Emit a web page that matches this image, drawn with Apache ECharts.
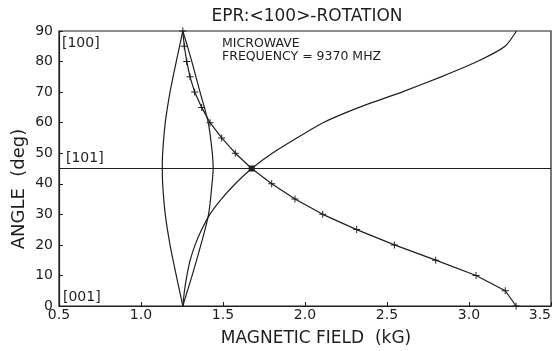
<!DOCTYPE html>
<html>
<head>
<meta charset="utf-8">
<script src="https://cdn.jsdelivr.net/npm/echarts@6/dist/echarts.min.js"></script>
<style>
html,body{margin:0;padding:0;background:#fff;}
#chart{width:555px;height:351px;}
</style>
</head>
<body>
<div id="chart"></div>
<script>
// Marked curve (with + symbols): angle (deg) vs magnetic field (kG)
const markedAngles = [90, 85, 80, 75, 70, 65, 60, 55, 50, 45, 40, 35, 30, 25, 20, 15, 10, 5, 0];
const markedField  = [1.255, 1.264, 1.279, 1.299, 1.327, 1.370, 1.421, 1.492, 1.575, 1.675, 1.797, 1.939, 2.108, 2.315, 2.545, 2.797, 3.043, 3.221, 3.287];

// Rising curve (no symbols)
const risingAngles = [0, 5, 10, 15, 20, 25, 30, 35, 40, 45, 50, 55, 60, 65, 70, 75, 80, 85, 90];
const risingField  = [1.255, 1.265, 1.280, 1.300, 1.330, 1.370, 1.420, 1.490, 1.575, 1.675, 1.800, 1.950, 2.110, 2.330, 2.590, 2.830, 3.050, 3.220, 3.290];

// Lens-shaped pair of curves
const lensAngles = [90, 85, 80, 70, 60, 50, 45, 40, 30, 20, 10, 5, 0];
const lensLeft   = [1.255, 1.235, 1.215, 1.177, 1.148, 1.132, 1.130, 1.132, 1.148, 1.177, 1.215, 1.235, 1.255];
const lensRight  = [1.255, 1.283, 1.310, 1.360, 1.410, 1.435, 1.440, 1.433, 1.412, 1.365, 1.312, 1.283, 1.255];

// Axis ticks / reference line
const xTicks = [0.5, 1.0, 1.5, 2.0, 2.5, 3.0, 3.5];
const yTicks = [0, 10, 20, 30, 40, 50, 60, 70, 80, 90];
const refAngle = 45;

const INK = '#1e1e1e';
const FONT = 'DejaVu Sans';
const plus = 'path://M-0.14,-1H0.14V-0.14H1V0.14H0.14V1H-0.14V0.14H-1V-0.14H-0.14Z';

function pairs(fields, angles) { return fields.map((f, i) => [f, angles[i]]); }

const markedData = markedField.map((f, i) => {
  const item = { value: [f, markedAngles[i]] };
  if (markedAngles[i] === refAngle) { item.symbol = 'rect'; item.symbolSize = 6; }
  return item;
});

const chart = echarts.init(document.getElementById('chart'), null, { renderer: 'canvas' });
chart.setOption({
  animation: false,
  backgroundColor: '#fff',
  grid: { left: 59, right: 4, top: 31, bottom: 45, show: true, borderColor: INK, borderWidth: 1.2 },
  xAxis: {
    type: 'value', min: xTicks[0], max: xTicks[xTicks.length - 1], interval: 0.5,
    axisLine: { show: true, lineStyle: { color: INK, width: 1.2 } },
    axisTick: { show: true, inside: true, length: 4, lineStyle: { color: INK } },
    splitLine: { show: false },
    axisLabel: { color: INK, fontSize: 14, fontFamily: FONT, margin: 2, alignMaxLabel: 'right',
      formatter: v => v.toFixed(1) }
  },
  yAxis: {
    type: 'value', min: yTicks[0], max: yTicks[yTicks.length - 1], interval: 10,
    axisLine: { show: true, lineStyle: { color: INK, width: 1.2 } },
    axisTick: { show: true, inside: true, length: 4, lineStyle: { color: INK } },
    splitLine: { show: false },
    axisLabel: { color: INK, fontSize: 14, fontFamily: FONT, margin: 6 }
  },
  graphic: [
    { type: 'text', x: 307, y: 17, style: { text: 'EPR:<100>-ROTATION', font: '17px "DejaVu Sans"', fill: INK, align: 'center', verticalAlign: 'middle' } },
    { type: 'text', x: 316, y: 339, style: { text: 'MAGNETIC FIELD  (kG)', font: '17px "DejaVu Sans"', fill: INK, align: 'center', verticalAlign: 'middle' } },
    { type: 'text', x: 19, y: 189, rotation: Math.PI / 2, style: { text: 'ANGLE  (deg)', font: '18px "DejaVu Sans"', fill: INK, align: 'center', verticalAlign: 'middle' } },
    { type: 'text', x: 62, y: 43, style: { text: '[100]', font: '14px "DejaVu Sans"', fill: INK, align: 'left', verticalAlign: 'middle' } },
    { type: 'text', x: 66, y: 158, style: { text: '[101]', font: '14px "DejaVu Sans"', fill: INK, align: 'left', verticalAlign: 'middle' } },
    { type: 'text', x: 63, y: 297, style: { text: '[001]', font: '14px "DejaVu Sans"', fill: INK, align: 'left', verticalAlign: 'middle' } },
    { type: 'text', x: 222, y: 44, style: { text: 'MICROWAVE', font: '12.5px "DejaVu Sans"', fill: INK, align: 'left', verticalAlign: 'middle' } },
    { type: 'text', x: 222, y: 57, style: { text: 'FREQUENCY = 9370 MHZ', font: '12.5px "DejaVu Sans"', fill: INK, align: 'left', verticalAlign: 'middle' } }
  ],
  series: [
    {
      type: 'line', data: markedData, symbol: plus, symbolSize: 7,
      lineStyle: { color: INK, width: 1.2 }, itemStyle: { color: INK },
      markLine: { silent: true, symbol: 'none', label: { show: false },
        lineStyle: { color: INK, width: 1, type: 'solid' }, data: [{ yAxis: refAngle }] }
    },
    { type: 'line', data: pairs(risingField, risingAngles), showSymbol: false, symbol: 'none', smooth: 0.2,
      lineStyle: { color: INK, width: 1.2 } },
    { type: 'line', data: pairs(lensLeft, lensAngles), showSymbol: false, symbol: 'none', smooth: 0.3,
      lineStyle: { color: INK, width: 1.2 } },
    { type: 'line', data: pairs(lensRight, lensAngles), showSymbol: false, symbol: 'none', smooth: 0.3,
      lineStyle: { color: INK, width: 1.2 } }
  ]
});
</script>
</body>
</html>
